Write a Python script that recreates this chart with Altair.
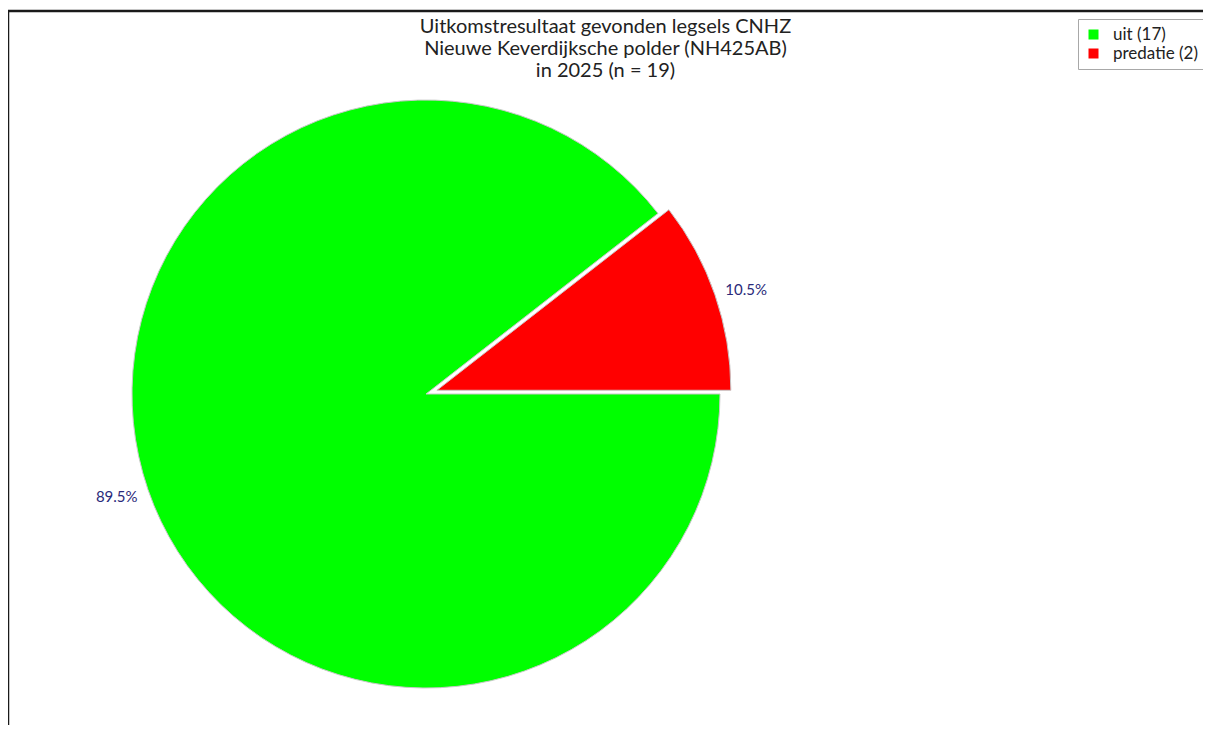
import math
import altair as alt
import pandas as pd

# ---- data ----
categories = ["predatie", "uit"]
counts = [2, 17]
legend_labels = ["predatie (2)", "uit (17)"]
slice_order = [0, 1]
colors_domain = ["uit (17)", "predatie (2)"]
colors_range = ["#00ff00", "#ff0000"]
title_lines = [
    "Uitkomstresultaat gevonden legsels CNHZ",
    "Nieuwe Keverdijksche polder (NH425AB)",
    "in 2025 (n = 19)",
]

df = pd.DataFrame({
    "cat": categories,
    "count": counts,
    "label": legend_labels,
    "ord": slice_order,
})

# ---- layout ----
W, H = 1195, 714
CX, CY = 418, 383
R = 294
LABEL_R = 327
total = sum(counts)
start = math.pi / 2 - 2 * math.pi * counts[0] / total  # red slice ends at 3 o'clock
explode = 11.5
mid_red = start + math.pi * counts[0] / total
RX = CX + explode * math.sin(mid_red)
RY = CY - explode * math.cos(mid_red)

base = (
    alt.Chart(df)
    .transform_joinaggregate(total="sum(count)")
    .transform_window(cum="sum(count)", sort=[alt.SortField("ord")])
    .transform_calculate(
        t0=f"{start} + 2*PI*(datum.cum - datum.count)/datum.total",
        t1=f"{start} + 2*PI*datum.cum/datum.total",
        pct="format(datum.count/datum.total, '.1%')",
    )
    .transform_calculate(tm="(datum.t0 + datum.t1)/2")
)

color = alt.Color(
    "label:N",
    scale=alt.Scale(domain=colors_domain, range=colors_range),
    legend=alt.Legend(
        title=None,
        orient="none",
        legendX=1070,
        legendY=8,
        padding=7,
        strokeColor="#a8a8a8",
        fillColor="#ffffff",
        symbolType="square",
        symbolSize=100,
        symbolStrokeWidth=0,
        labelFont="Lato",
        labelFontSize=17,
        labelColor="#222222",
        labelOffset=11,
        rowPadding=1,
        cornerRadius=0,
    ),
)


def slice_layer(cat, cx, cy, label_dy):
    sub = base.transform_filter(alt.datum.cat == cat)
    arc = sub.mark_arc(
        radius=R, x=cx, y=cy, stroke="#c8c8c8", strokeWidth=1
    ).encode(
        theta=alt.Theta("t0:Q", scale=None),
        theta2="t1:Q",
        color=color,
    )
    txt = sub.mark_text(
        radius=LABEL_R, x=cx, y=cy, font="Lato", fontSize=15, dy=label_dy,
        color="#2a2a7a", align="center", baseline="middle"
    ).encode(
        theta=alt.Theta("tm:Q", scale=None),
        text="pct:N",
    )
    return arc + txt


green = slice_layer("uit", CX, CY, -3)
red = slice_layer("predatie", RX, RY, 6)

frame_df = pd.DataFrame({"a": [0]})
top_rule = alt.Chart(frame_df).mark_rule(color="#1a1a1a", strokeWidth=2.5).encode(
    x=alt.value(0), x2=alt.value(W + 20), y=alt.value(0)
)
left_rule = alt.Chart(frame_df).mark_rule(color="#1a1a1a", strokeWidth=2.5).encode(
    x=alt.value(0), y=alt.value(0), y2=alt.value(H + 20)
)

title_df = pd.DataFrame({"t": [title_lines]})
title = alt.Chart(title_df).mark_text(
    font="Lato", fontSize=20, lineHeight=22, color="#222222",
    align="center", baseline="alphabetic"
).encode(
    text="t",
    x=alt.value(W / 2),
    y=alt.value(22),
)

chart = (
    alt.layer(green, red, top_rule, left_rule, title)
    .properties(
        width=W,
        height=H,
        autosize=alt.AutoSizeParams(type="none"),
        padding={"left": 0, "top": 3, "right": 0, "bottom": 0},
    )
    .configure_view(stroke=None)
)

chart.save("out.html", embed_options={"renderer": "svg", "actions": False})
